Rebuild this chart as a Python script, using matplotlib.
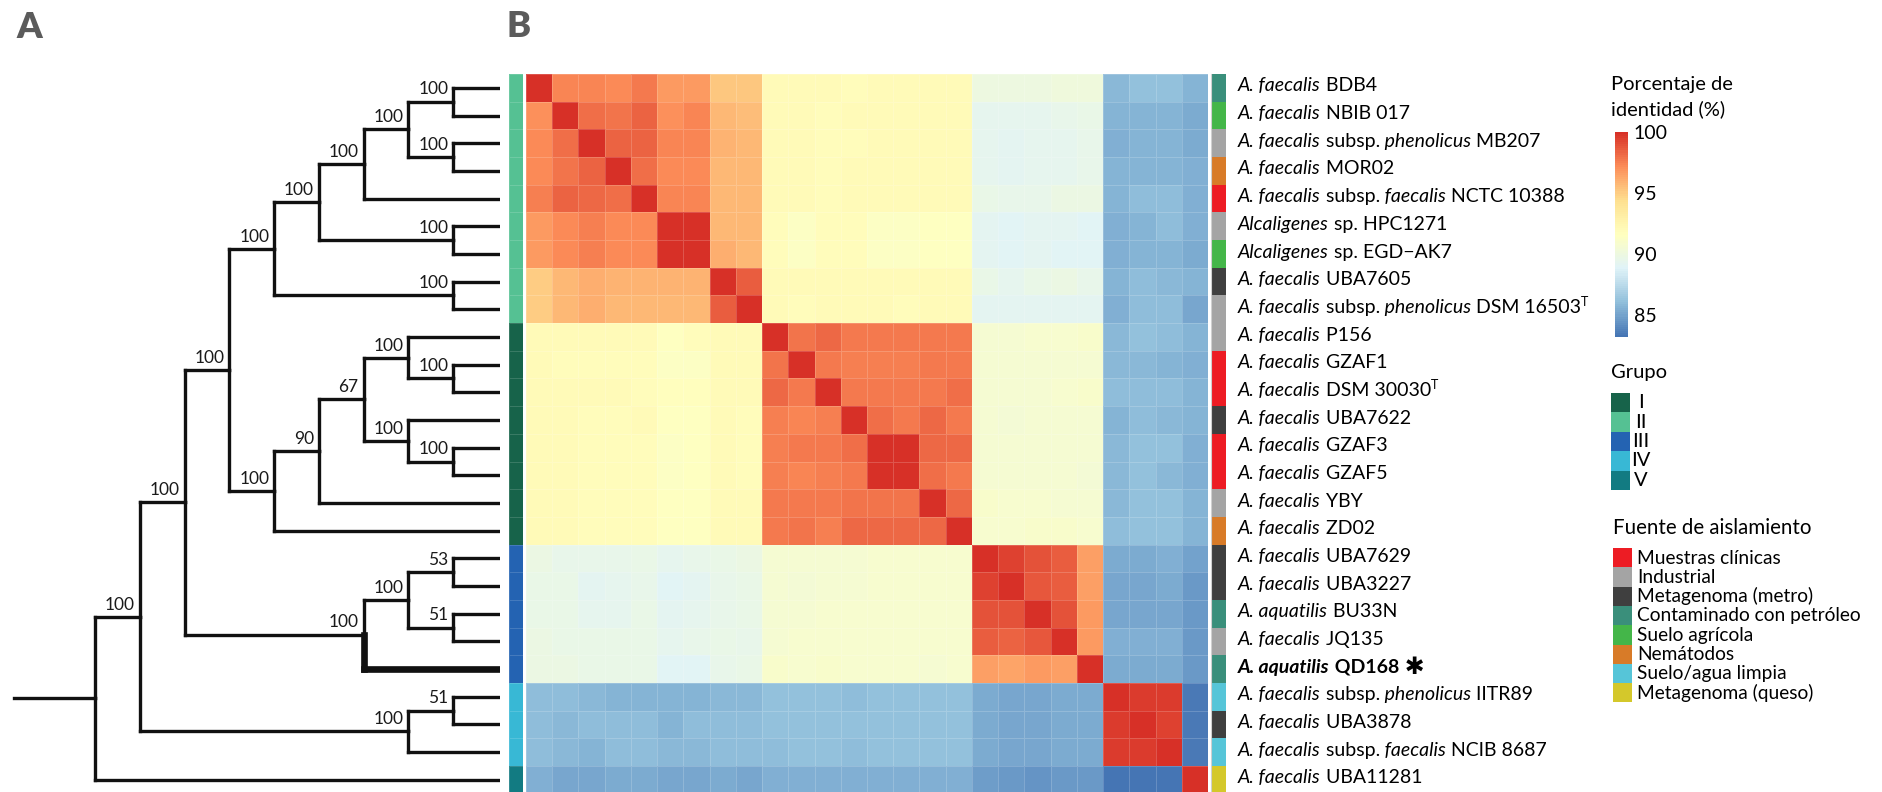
import numpy as np
import matplotlib.pyplot as plt
from matplotlib import transforms
from matplotlib.cm import ScalarMappable
from matplotlib.colors import LinearSegmentedColormap, ListedColormap, Normalize
from matplotlib.patches import Rectangle

plt.rcParams['font.family'] = ['Lato', 'DejaVu Sans']

# ---------------------------------------------------------------
# data
# ---------------------------------------------------------------
# strain labels: _..._ = italic, ^T = type strain superscript
strains = [
    "_A. faecalis_ BDB4",
    "_A. faecalis_ NBIB 017",
    "_A. faecalis_ subsp. _phenolicus_ MB207",
    "_A. faecalis_ MOR02",
    "_A. faecalis_ subsp. _faecalis_ NCTC 10388",
    "_Alcaligenes_ sp. HPC1271",
    "_Alcaligenes_ sp. EGD\u2212AK7",
    "_A. faecalis_ UBA7605",
    "_A. faecalis_ subsp. _phenolicus_ DSM 16503^T",
    "_A. faecalis_ P156",
    "_A. faecalis_ GZAF1",
    "_A. faecalis_ DSM 30030^T",
    "_A. faecalis_ UBA7622",
    "_A. faecalis_ GZAF3",
    "_A. faecalis_ GZAF5",
    "_A. faecalis_ YBY",
    "_A. faecalis_ ZD02",
    "_A. faecalis_ UBA7629",
    "_A. faecalis_ UBA3227",
    "_A. aquatilis_ BU33N",
    "_A. faecalis_ JQ135",
    "_A. aquatilis_ QD168 \u2731",
    "_A. faecalis_ subsp. _phenolicus_ IITR89",
    "_A. faecalis_ UBA3878",
    "_A. faecalis_ subsp. _faecalis_ NCIB 8687",
    "_A. faecalis_ UBA11281",
]
highlight = 21  # QD168

groups = ["II", "II", "II", "II", "II", "II", "II", "II", "II",
          "I", "I", "I", "I", "I", "I", "I", "I",
          "III", "III", "III", "III", "III",
          "IV", "IV", "IV", "V"]
group_names = ["I", "II", "III", "IV", "V"]
group_colors = ["#17634a", "#55c193", "#2463b2", "#38b8d5", "#127b82"]

sources = ["Contaminado con petróleo", "Suelo agrícola", "Industrial", "Nemátodos",
           "Muestras clínicas", "Industrial", "Suelo agrícola", "Metagenoma (metro)",
           "Industrial", "Industrial", "Muestras clínicas", "Muestras clínicas",
           "Metagenoma (metro)", "Muestras clínicas", "Muestras clínicas", "Industrial",
           "Nemátodos", "Metagenoma (metro)", "Metagenoma (metro)", "Contaminado con petróleo",
           "Industrial", "Contaminado con petróleo", "Suelo/agua limpia", "Metagenoma (metro)",
           "Suelo/agua limpia", "Metagenoma (queso)"]
source_names = ["Muestras clínicas", "Industrial", "Metagenoma (metro)",
                "Contaminado con petróleo", "Suelo agrícola", "Nemátodos",
                "Suelo/agua limpia", "Metagenoma (queso)"]
source_colors = ["#ed1c24", "#a4a4a4", "#3f3f3f", "#3a8f7b",
                 "#44b649", "#d87b28", "#56c5d8", "#d4c82b"]

# pairwise identity (%)
identity = np.array([
    [100.0, 97.4, 97.4, 97.3, 97.7, 96.8, 96.8, 95.2, 95.2, 92.0, 92.0, 92.0, 91.9, 92.0, 92.0, 92.1, 92.1, 90.0, 90.0, 90.0, 90.1, 90.1, 85.8, 86.1, 86.1, 85.6],
    [97.0, 100.0, 98.1, 97.9, 98.4, 97.1, 97.4, 95.7, 95.5, 92.0, 92.0, 91.9, 92.0, 92.0, 92.0, 92.0, 92.0, 89.4, 89.3, 89.4, 89.5, 89.6, 85.6, 85.6, 85.6, 85.3],
    [97.3, 98.1, 100.0, 98.4, 98.4, 97.4, 97.4, 95.9, 95.8, 92.0, 92.0, 91.8, 91.9, 92.0, 92.0, 92.0, 92.0, 89.3, 89.1, 89.3, 89.4, 89.5, 85.4, 85.6, 85.6, 85.3],
    [97.3, 97.9, 98.4, 100.0, 98.1, 97.3, 97.3, 95.8, 95.8, 92.0, 92.0, 91.9, 92.0, 92.0, 92.0, 92.0, 92.0, 89.3, 89.2, 89.3, 89.4, 89.5, 85.6, 85.6, 85.6, 85.5],
    [97.5, 98.4, 98.3, 98.1, 100.0, 97.4, 97.4, 95.8, 95.8, 92.1, 92.0, 91.9, 92.0, 92.0, 92.0, 92.0, 92.0, 89.6, 89.5, 89.5, 89.8, 89.9, 85.6, 85.9, 85.9, 85.4],
    [96.7, 97.2, 97.5, 97.2, 97.3, 100.0, 99.9, 95.8, 95.8, 91.8, 91.3, 91.8, 91.8, 91.4, 91.4, 91.6, 91.6, 89.1, 89.0, 89.2, 89.1, 89.0, 85.4, 85.6, 85.9, 85.4],
    [96.7, 97.2, 97.6, 97.2, 97.3, 99.9, 100.0, 96.1, 95.8, 91.8, 91.3, 91.8, 91.8, 91.4, 91.4, 91.6, 91.6, 89.1, 89.0, 89.2, 89.0, 89.0, 85.4, 85.6, 85.6, 85.3],
    [95.1, 95.8, 96.0, 95.9, 95.9, 95.9, 95.9, 100.0, 98.6, 92.1, 92.0, 92.0, 92.0, 92.0, 92.0, 92.0, 92.0, 89.6, 89.4, 89.6, 89.8, 89.5, 85.6, 86.0, 85.8, 85.6],
    [95.1, 95.7, 96.0, 95.8, 95.8, 95.8, 95.8, 98.6, 100.0, 92.0, 91.9, 92.0, 92.0, 92.0, 91.8, 92.0, 92.0, 89.2, 89.1, 89.2, 89.1, 89.1, 85.4, 85.9, 85.9, 85.1],
    [92.1, 92.0, 92.0, 92.0, 92.0, 91.6, 91.8, 92.1, 92.1, 100.0, 97.9, 98.3, 97.7, 97.7, 97.7, 97.8, 97.8, 90.7, 90.7, 90.8, 90.8, 91.0, 85.8, 86.1, 85.9, 85.6],
    [92.0, 91.9, 91.8, 91.9, 91.9, 91.3, 91.3, 92.0, 92.0, 97.9, 100.0, 97.8, 97.6, 97.6, 97.6, 97.8, 97.8, 90.6, 90.6, 90.7, 90.7, 90.6, 85.8, 85.8, 85.6, 85.4],
    [92.0, 92.0, 92.0, 92.0, 91.9, 91.7, 91.7, 92.0, 92.0, 98.3, 97.8, 100.0, 97.7, 97.7, 97.7, 97.7, 98.0, 90.6, 90.6, 90.7, 90.8, 91.0, 86.0, 86.0, 86.0, 85.6],
    [92.1, 92.0, 91.9, 91.9, 92.0, 91.6, 91.6, 92.0, 91.9, 97.5, 97.4, 97.6, 100.0, 98.0, 97.7, 98.3, 97.7, 90.6, 90.5, 90.6, 90.7, 90.6, 85.6, 86.0, 85.8, 85.6],
    [92.1, 92.0, 91.9, 91.9, 91.9, 91.4, 91.5, 92.0, 91.8, 97.5, 97.8, 97.8, 98.0, 100.0, 99.9, 98.2, 98.2, 90.6, 90.6, 90.7, 90.7, 90.7, 85.8, 86.1, 86.1, 85.4],
    [92.1, 92.0, 91.9, 91.9, 91.9, 91.4, 91.5, 92.0, 91.8, 97.5, 97.4, 97.5, 97.8, 99.9, 100.0, 98.1, 97.8, 90.6, 90.6, 90.6, 90.7, 90.5, 85.8, 86.1, 85.8, 85.4],
    [92.1, 92.0, 91.9, 91.9, 91.9, 91.6, 91.6, 92.0, 92.0, 97.8, 97.8, 97.8, 97.9, 97.9, 97.9, 100.0, 98.3, 91.0, 90.8, 90.8, 90.7, 90.7, 85.8, 86.1, 86.1, 85.6],
    [92.1, 92.0, 91.9, 91.9, 91.9, 91.6, 91.5, 92.1, 92.0, 97.8, 97.9, 97.6, 98.2, 98.2, 98.2, 98.3, 100.0, 90.8, 90.8, 91.0, 91.0, 90.8, 86.0, 86.2, 86.2, 85.6],
    [89.8, 89.5, 89.5, 89.5, 89.7, 89.3, 89.5, 89.7, 89.8, 90.6, 90.6, 90.7, 90.7, 90.8, 90.8, 90.8, 90.8, 100.0, 99.4, 98.9, 98.5, 96.6, 85.3, 85.3, 85.5, 84.9],
    [89.7, 89.6, 89.2, 89.3, 89.5, 89.0, 89.1, 89.5, 89.6, 90.6, 90.5, 90.7, 90.7, 90.8, 90.8, 90.8, 90.8, 99.4, 100.0, 98.8, 98.5, 96.6, 85.2, 85.2, 85.3, 84.6],
    [89.7, 89.6, 89.3, 89.4, 89.6, 89.2, 89.3, 89.5, 89.7, 90.6, 90.6, 90.8, 90.8, 90.8, 90.8, 90.8, 90.8, 98.9, 98.9, 100.0, 98.9, 96.8, 85.2, 85.2, 85.2, 84.7],
    [89.8, 89.7, 89.7, 89.7, 89.7, 89.4, 89.5, 89.7, 89.5, 90.7, 90.8, 90.8, 90.8, 90.8, 90.8, 90.8, 90.8, 98.5, 98.4, 98.8, 100.0, 96.7, 85.4, 85.4, 85.4, 84.7],
    [89.8, 89.8, 89.7, 89.7, 89.7, 89.0, 89.0, 89.5, 89.7, 91.0, 90.8, 91.0, 90.8, 90.8, 90.8, 90.7, 90.8, 96.6, 96.4, 96.7, 96.5, 100.0, 85.3, 85.3, 85.3, 84.7],
    [86.0, 86.0, 85.8, 85.7, 85.7, 85.6, 85.6, 85.8, 85.8, 86.1, 86.1, 86.1, 86.0, 86.2, 86.2, 86.2, 86.2, 85.3, 85.2, 85.2, 85.3, 85.3, 100.0, 99.5, 99.5, 83.4],
    [86.0, 85.8, 86.0, 85.9, 85.9, 85.7, 86.0, 86.0, 86.0, 86.1, 86.1, 86.1, 86.1, 86.2, 86.2, 86.2, 86.2, 85.3, 85.2, 85.2, 85.3, 85.3, 99.5, 100.0, 99.4, 83.4],
    [86.0, 85.8, 85.7, 86.0, 86.0, 85.8, 85.8, 85.9, 86.0, 86.0, 86.1, 86.2, 86.0, 86.1, 86.2, 86.2, 86.2, 85.3, 85.2, 85.2, 85.3, 85.3, 99.5, 99.5, 100.0, 83.4],
    [85.4, 85.2, 85.1, 85.3, 85.3, 85.2, 85.2, 85.3, 85.2, 85.5, 85.4, 85.4, 85.4, 85.5, 85.4, 85.5, 85.5, 84.8, 84.6, 84.5, 84.7, 84.7, 83.2, 83.2, 83.2, 100.0],
])

# cladogram: (depth, bootstrap, children); integers are leaf rows
tree = (0, None, [
    (1, 100, [
        (2, 100, [
            (3, 100, [
                (4, 100, [
                    (5, 100, [
                        (6, 100, [
                            (7, 100, [(8, 100, [0, 1]), (8, 100, [2, 3])]),
                            4]),
                        (8, 100, [5, 6])]),
                    (8, 100, [7, 8])]),
                (4, 100, [
                    (5, 90, [
                        (6, 67, [
                            (7, 100, [9, (8, 100, [10, 11])]),
                            (7, 100, [12, (8, 100, [13, 14])])]),
                        15]),
                    16])]),
            (6, 100, [
                (7, 100, [(8, 53, [17, 18]), (8, 51, [19, 20])]),
                21])]),
        (7, 100, [(8, 51, [22, 23]), 24])]),
    25])

cbar_ticks = [85, 90, 95, 100]

# ---------------------------------------------------------------
# figure layout (pixel based)
# ---------------------------------------------------------------
W, H = 1883, 792
fig = plt.figure(figsize=(W / 100, H / 100), dpi=100)
renderer = fig.canvas.get_renderer()


def add_axes_px(x0, y0, x1, y1):
    return fig.add_axes([x0 / W, 1 - y1 / H, (x1 - x0) / W, (y1 - y0) / H])


n = len(strains)
TOP, BOTTOM = 74, 793.7

# heatmap (pheatmap style palette)
pal = ["#4575B4", "#91BFDB", "#E0F3F8", "#FFFFBF", "#FEE090", "#FC8D59", "#D73027"]
cmap = LinearSegmentedColormap.from_list("rdylbu7", pal, N=100)
norm = Normalize(vmin=identity.min(), vmax=identity.max())

ax_hm = add_axes_px(526, TOP, 1208, BOTTOM)
ax_hm.pcolormesh(identity, cmap=cmap, norm=norm,
                 edgecolors=(1, 1, 1, 0.18), linewidth=0.5)
ax_hm.set_xlim(0, n)
ax_hm.set_ylim(n, 0)
ax_hm.axis("off")

# group annotation bar
ax_grp = add_axes_px(509, TOP, 523, BOTTOM)
gidx = np.array([group_names.index(g) for g in groups]).reshape(-1, 1)
ax_grp.pcolormesh(gidx, cmap=ListedColormap(group_colors), vmin=-0.5,
                  vmax=len(group_names) - 0.5, edgecolors=(1, 1, 1, 0.15), linewidth=0.5)
ax_grp.set_ylim(n, 0)
ax_grp.axis("off")

# isolation source bar
ax_src = add_axes_px(1212, TOP, 1226, BOTTOM)
sidx = np.array([source_names.index(s) for s in sources]).reshape(-1, 1)
ax_src.pcolormesh(sidx, cmap=ListedColormap(source_colors), vmin=-0.5,
                  vmax=len(source_names) - 0.5)
ax_src.set_ylim(n, 0)
ax_src.axis("off")
fig.add_artist(plt.Line2D([1210.5 / W] * 2, [1 - BOTTOM / H, 1 - TOP / H],
                          color="#cfcfcf", lw=0.8))

# ---------------------------------------------------------------
# tree
# ---------------------------------------------------------------
LEAF_X = 9.05
ax_tree = add_axes_px(0, TOP, 500, BOTTOM)
ax_tree.set_xlim(-2.123, LEAF_X)
ax_tree.set_ylim(n, 0)
ax_tree.axis("off")
LW, LW_BOLD = 2.4, 4.8
line_kw = dict(color="#111111", solid_capstyle="projecting")


def draw_clade(node):
    if isinstance(node, int):
        return node + 0.5
    depth, support, children = node
    ys = [draw_clade(c) for c in children]
    y = (min(ys) + max(ys)) / 2
    for c, cy in zip(children, ys):
        cx = LEAF_X if isinstance(c, int) else c[0]
        lw = LW_BOLD if c == highlight else LW
        ax_tree.plot([depth, cx], [cy, cy], lw=lw, **line_kw)
        ax_tree.plot([depth, depth], [y, cy], lw=lw, **line_kw)
    if support is not None:
        ax_tree.annotate(str(support), (depth, y), xytext=(-3.5, 5.2),
                         textcoords="offset points", ha="right", va="baseline",
                         fontsize=12.5, color="#1a1a1a")
    return y


root_y = draw_clade(tree)
ax_tree.plot([-1.81, 0], [root_y, root_y], lw=LW, **line_kw)

# ---------------------------------------------------------------
# strain labels with mixed italic / roman runs
# ---------------------------------------------------------------
STAR = "\u2731"


def parse_label(markup):
    runs = []
    for k, piece in enumerate(markup.split("_")):
        if not piece:
            continue
        style = "italic" if k % 2 else "normal"
        if "^" in piece:
            main, sup = piece.split("^")
            runs.append((main, style, "sup"))
            runs.append((sup, "normal", "sup_t"))
        elif STAR in piece:
            main, _ = piece.split(STAR)
            runs.append((main, style, ""))
            runs.append((STAR, "normal", "star"))
        else:
            runs.append((piece, style, ""))
    # move trailing blanks to the start of the next run so widths add up
    fixed = []
    carry = ""
    for txt, style, kind in runs:
        txt = carry + txt
        stripped = txt.rstrip(" ")
        carry = txt[len(stripped):]
        fixed.append((stripped, style, kind))
    return fixed


run_size = {"": 14, "sup": 14, "sup_t": 9, "star": 17}
run_rise = {"": 0, "sup": 0, "sup_t": 7, "star": -1}

base = transforms.blended_transform_factory(ax_hm.transAxes, ax_hm.transData)
for i, markup in enumerate(strains):
    x_off = 30
    weight = "bold" if i == highlight else "normal"
    for txt, style, kind in parse_label(markup):
        tr = transforms.offset_copy(base, fig=fig, x=x_off, y=run_rise[kind], units="dots")
        t = ax_hm.text(1.0, i + 0.63, txt, transform=tr, fontsize=run_size[kind],
                       fontstyle=style, fontweight=weight, va="baseline",
                       ha="left", clip_on=False)
        x_off += t.get_window_extent(renderer).width

# ---------------------------------------------------------------
# legends
# ---------------------------------------------------------------
ax_leg = fig.add_axes([0, 0, 1, 1])
ax_leg.set_xlim(0, W)
ax_leg.set_ylim(H, 0)
ax_leg.axis("off")

ax_leg.text(16, 38, "A", fontsize=26, fontweight="heavy", color="#5b5b5b")
ax_leg.text(507, 37, "B", fontsize=26, fontweight="heavy", color="#5b5b5b")

ax_leg.text(1611, 90, "Porcentaje de", fontsize=14.5, va="baseline")
ax_leg.text(1611, 115, "identidad (%)", fontsize=14.5, va="baseline")

cax = add_axes_px(1615, 132, 1628, 337)
cb = fig.colorbar(ScalarMappable(norm=norm, cmap=cmap), cax=cax, ticks=cbar_ticks)
cb.outline.set_visible(False)
cax.tick_params(length=0, labelsize=14, pad=4)

ax_leg.text(1611, 378, "Grupo", fontsize=14.5, va="baseline")
for k, (name, col) in enumerate(zip(group_names, group_colors)):
    y0 = 393 + k * 19.4
    ax_leg.add_patch(Rectangle((1611, y0), 19, 19.4, color=col, lw=0))
    ax_leg.text(1641, y0 + 9.7, name, fontsize=14.5, ha="center", va="center")

ax_leg.text(1613, 534, "Fuente de aislamiento", fontsize=14.8, va="baseline")
for k, (name, col) in enumerate(zip(source_names, source_colors)):
    y0 = 548 + k * 19.3
    ax_leg.add_patch(Rectangle((1613, y0), 19, 19.3, color=col, lw=0))
    ax_leg.text(1637, y0 + 15.5, name, fontsize=13.8, va="baseline")

fig.savefig("out.png", dpi=100)
